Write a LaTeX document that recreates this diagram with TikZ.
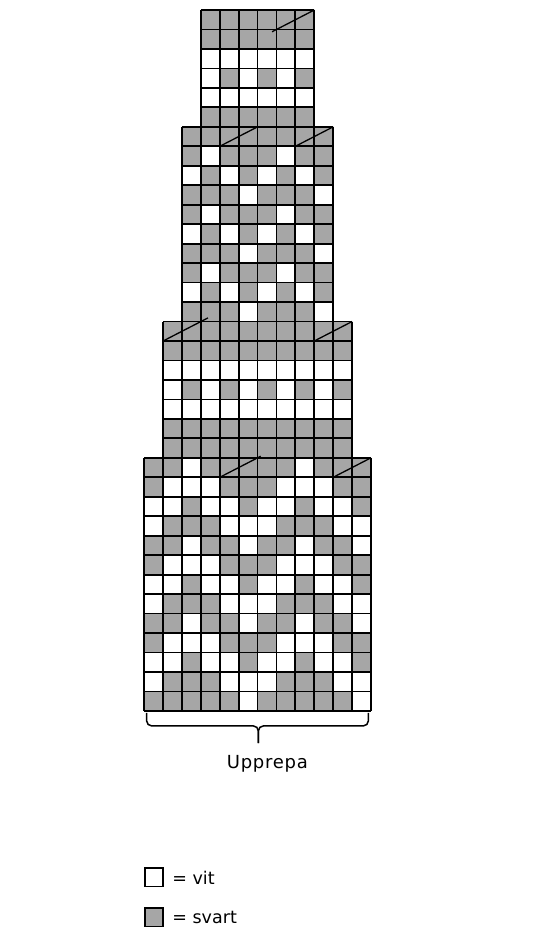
\documentclass[tikz,border=0pt]{standalone}
\usepackage{fontspec}
\usetikzlibrary{positioning}
\newfontfamily\chartfont{DejaVu Sans}
\newfontfamily\repeatfont{DejaVu Sans}[LetterSpace=4]
\definecolor{chartgray}{RGB}{166,166,166}

\begin{document}
\begin{tikzpicture}[x=18.9pt, y=-19.47pt]
    \tikzstyle{grid line}=[draw=black, line width=1.8pt, line cap=square]
    \tikzstyle{decrease}=[draw=black, line width=1.3pt]
    \tikzstyle{brace line}=[draw=black, line width=1.5pt, rounded corners=5pt]
    \tikzstyle{key box}=[draw=black, line width=1.8pt, minimum size=18.2pt, inner sep=0pt]
    \tikzstyle{annot}=[font=\chartfont\fontsize{17.5}{20}\selectfont, inner sep=0pt]

    \useasboundingbox (-257.6pt,10pt) rectangle (281.4pt,-933pt);

    % Fill the four blocks dark (half width / top row / bottom row)
    \foreach \half/\top/\bot in {3/0/6, 4/6/16, 5/16/23, 6/23/36}
      \fill[chartgray] (-\half,\top) rectangle (\half,\bot);

    % White stitches of the top block (row / columns)
    \foreach \row/\cols in {3/{1,...,6}, 4/{1,3,5}, 5/{1,...,6}}
      \foreach \col in \cols
        \fill[white] (\col-4,\row-1) rectangle ++(1,1);

    % White stitches of the second block
    \foreach \row/\cols in {2/{2,6}, 3/{1,3,5,7}, 4/{4,8}, 5/{2,6}, 6/{1,3,5,7},
                            7/{4,8}, 8/{2,6}, 9/{1,3,5,7}, 10/{4,8}}
      \foreach \col in \cols
        \fill[white] (\col-5,\row+5) rectangle ++(1,1);

    % White stitches of the third block
    \foreach \row/\cols in {3/{1,...,10}, 4/{1,3,5,7,9}, 5/{1,...,10}}
      \foreach \col in \cols
        \fill[white] (\col-6,\row+15) rectangle ++(1,1);

    % White stitches of the bottom block
    \foreach \row/\cols in {1/{3,9}, 2/{2,3,4,8,9,10}, 3/{1,2,4,5,7,8,10,11},
                            4/{1,5,6,7,11,12}, 5/{3,6,9,12}, 6/{2,3,4,8,9,10},
                            7/{1,2,4,5,7,8,10,11}, 8/{1,5,6,7,11,12}, 9/{3,6,9,12},
                            10/{2,3,4,8,9,10}, 11/{1,2,4,5,7,8,10,11},
                            12/{1,5,6,7,11,12}, 13/{6,12}}
      \foreach \col in \cols
        \fill[white] (\col-7,\row+22) rectangle ++(1,1);

    % Draw the grid of every block
    \foreach \half/\top/\bot in {3/0/6, 4/6/16, 5/16/23, 6/23/36} {
      \foreach \y in {\top,...,\bot}
        \draw[grid line] (-\half,\y) -- (\half,\y);
      \foreach \x in {-\half,...,\half}
        \draw[grid line] (\x,\top) -- (\x,\bot);
    }

    % Decreases, two stitches together
    \draw[decrease, shorten <=-5pt] (1,1) -- (3,0);
    \draw[decrease] (-2,7) -- (0,6);
    \draw[decrease] (2,7) -- (4,6);
    \draw[decrease, shorten >=-8pt] (-5,17) -- (-3,16);
    \draw[decrease] (3,17) -- (5,16);
    \draw[decrease, shorten >=-3.5pt] (-2,24) -- (0,23);
    \draw[decrease] (4,24) -- (6,23);

    % Brace under the bottom block
    \coordinate (brace left) at (-5.87,36.1);
    \coordinate (brace right) at (5.86,36.1);
    \coordinate (brace bar) at (0,36.77);
    \coordinate (brace tip) at (0.04,37.65);
    \draw[brace line] (brace left) |- (brace bar -| brace tip) -- (brace tip);
    \draw[brace line] (brace right) |- (brace bar -| brace tip) -- (brace tip);
    \node[font=\repeatfont\fontsize{18}{22}\selectfont, inner sep=0pt,
          below=12pt of brace tip, xshift=9pt] (repeat label) {Upprepa};

    % Key
    \node[key box, fill=white] (white key) at (-5.47,44.55) {};
    \node[key box, fill=chartgray, below=19.9pt of white key] (black key) {};
    \node[annot, right=8pt of white key] (white text) {= vit};
    \node[annot, right=8pt of black key] (black text) {= svart};
\end{tikzpicture}
\end{document}
